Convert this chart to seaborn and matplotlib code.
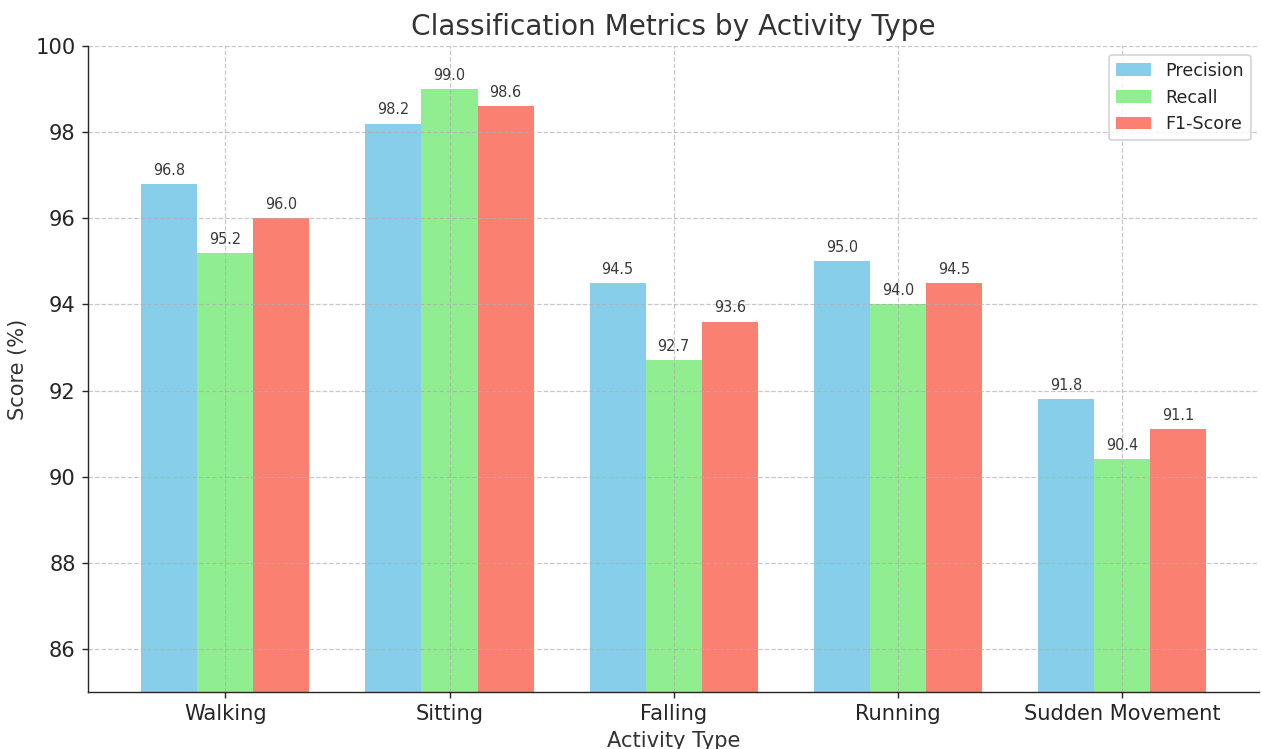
import seaborn as sns
import pandas as pd
import matplotlib.pyplot as plt

activities = ["Walking", "Sitting", "Falling", "Running", "Sudden Movement"]
precision = [96.8, 98.2, 94.5, 95.0, 91.8]
recall = [95.2, 99.0, 92.7, 94.0, 90.4]
f1_score = [96.0, 98.6, 93.6, 94.5, 91.1]
metrics = ["Precision", "Recall", "F1-Score"]
colors = ["skyblue", "lightgreen", "salmon"]

rows = []
for name, vals in zip(metrics, [precision, recall, f1_score]):
    for act, v in zip(activities, vals):
        rows.append({"Activity Type": act, "Metric": name, "Score": v})
df = pd.DataFrame(rows)

sns.set_style("ticks")
fig, ax = plt.subplots(figsize=(10, 749 / 126.2), dpi=126.2)
fig.subplots_adjust(left=0.0697, right=0.998, top=0.9386, bottom=0.0761)

sns.barplot(data=df, x="Activity Type", y="Score", hue="Metric",
            palette=colors, saturation=1, width=0.75, linewidth=0,
            edgecolor="none", ax=ax)

for c in ax.containers:
    ax.bar_label(c, fmt="%.1f", padding=3.5, fontsize=8.3, color="#3a3a3a")

ax.set_xlim(-0.6125, 4.6125)
ax.set_ylim(85, 100)
ax.set_yticks(range(86, 101, 2))
ax.grid(True, linestyle="--", linewidth=0.7, alpha=0.7, color="#b0b0b0")
ax.set_axisbelow("line")
ax.tick_params(labelsize=12)
ax.set_title("Classification Metrics by Activity Type", fontsize=16, color="#333333")
ax.set_xlabel("Activity Type", fontsize=12, color="#333333")
ax.set_ylabel("Score (%)", fontsize=12, color="#333333")
sns.despine(ax=ax)
sns.move_legend(ax, "upper right", title=None, fontsize=10, frameon=True)

fig.savefig("out.png", dpi=126.2)
